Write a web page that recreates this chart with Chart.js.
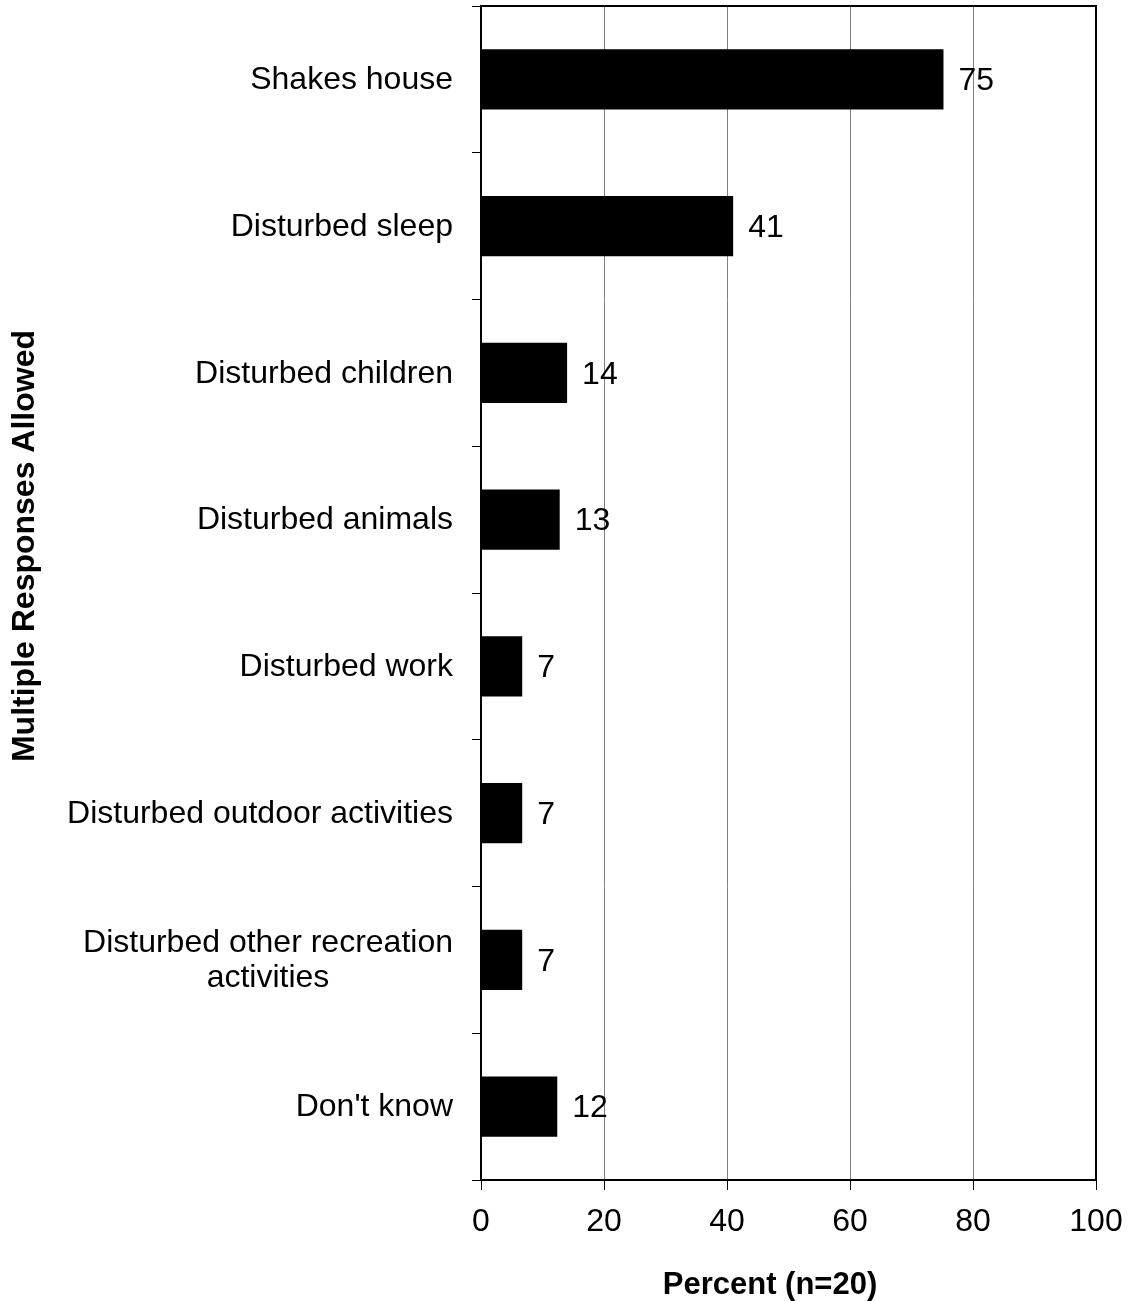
<!DOCTYPE html>
<html>
<head>
<meta charset="utf-8">
<script src="https://cdn.jsdelivr.net/npm/chart.js@4.4.0/dist/chart.umd.min.js"></script>
<style>
  html, body { margin: 0; padding: 0; background: #fff; }
  #wrap { width: 1127px; height: 1301px; }
</style>
</head>
<body>
<div id="wrap"><canvas id="chart"></canvas></div>
<script>
// categories and values
var categories = [
  'Shakes house',
  'Disturbed sleep',
  'Disturbed children',
  'Disturbed animals',
  'Disturbed work',
  'Disturbed outdoor activities',
  ['Disturbed other recreation', 'activities'],
  "Don't know"
];
var percents = [75.2, 41, 14, 12.8, 6.7, 6.7, 6.7, 12.4];
var valueLabels = ['75', '41', '14', '13', '7', '7', '7', '12'];
var xTicks = [0, 20, 40, 60, 80, 100];

var FONT = "'Liberation Sans', Arial, sans-serif";

// category labels: block right aligned, lines centred inside the block
var categoryLabels = {
  id: 'categoryLabels',
  afterDraw: function(chart) {
    var ctx = chart.ctx;
    var y = chart.scales.y;
    ctx.save();
    ctx.font = '32px ' + FONT;
    ctx.fillStyle = '#000';
    ctx.textBaseline = 'middle';
    ctx.textAlign = 'center';
    var right = 453, lh = 35;
    categories.forEach(function(c, i) {
      var lines = Array.isArray(c) ? c : [c];
      var w = Math.max.apply(null, lines.map(function(l) { return ctx.measureText(l).width; }));
      var cy = y.getPixelForValue(i) + 1;
      var top = cy - (lines.length - 1) * lh / 2;
      lines.forEach(function(l, k) {
        ctx.fillText(l, right - w / 2, top + k * lh);
      });
    });
    // axis titles
    ctx.font = 'bold 31px ' + FONT;
    ctx.fillText('Percent (n=20)', 770, 1285);
    ctx.translate(25, 546);
    ctx.rotate(-Math.PI / 2);
    ctx.font = 'bold 32px ' + FONT;
    ctx.fillText('Multiple Responses Allowed', 0, 0);
    ctx.restore();

    // frame around the plot area
    var a = chart.chartArea;
    ctx.save();
    ctx.strokeStyle = '#000';
    ctx.lineWidth = 2;
    ctx.strokeRect(a.left, a.top, a.right - a.left, a.bottom - a.top);
    ctx.restore();
  }
};

var barValues = {
  id: 'barValues',
  afterDatasetsDraw: function(chart) {
    var ctx = chart.ctx;
    var meta = chart.getDatasetMeta(0);
    ctx.save();
    ctx.font = '32px ' + FONT;
    ctx.fillStyle = '#000';
    ctx.textAlign = 'left';
    ctx.textBaseline = 'middle';
    meta.data.forEach(function(bar, i) {
      ctx.fillText(valueLabels[i], bar.x + 15, bar.y + 2);
    });
    ctx.restore();
  }
};

var ctx = document.getElementById('chart').getContext('2d');
var chart = new Chart(ctx, {
  type: 'bar',
  data: {
    labels: categories,
    datasets: [{
      data: percents,
      backgroundColor: '#000',
      borderColor: '#000',
      borderWidth: 0,
      barPercentage: 0.41,
      categoryPercentage: 1
    }]
  },
  options: {
    indexAxis: 'y',
    responsive: true,
    maintainAspectRatio: false,
    animation: false,
    layout: { padding: { top: 6, right: 31, left: 0, bottom: 0 } },
    plugins: {
      legend: { display: false },
      tooltip: { enabled: false }
    },
    scales: {
      x: {
        min: 0,
        max: 100,
        afterBuildTicks: function(s) { s.ticks = xTicks.map(function(v) { return { value: v }; }); },
        afterFit: function(s) { s.height = 121; s.paddingLeft = 0; s.paddingRight = 0; },
        grid: { color: '#808080', lineWidth: 1, tickLength: 10, tickColor: '#000' },
        border: { display: false },
        ticks: {
          color: '#000',
          padding: 13,
          maxRotation: 0,
          font: { family: FONT, size: 32 }
        }
      },
      y: {
        afterFit: function(s) { s.width = 481; s.paddingTop = 0; s.paddingBottom = 0; },
        grid: { drawOnChartArea: false, offset: true, tickLength: 9, tickColor: '#000' },
        border: { display: false },
        ticks: { display: false }
      }
    }
  },
  plugins: [categoryLabels, barValues]
});
</script>
</body>
</html>
